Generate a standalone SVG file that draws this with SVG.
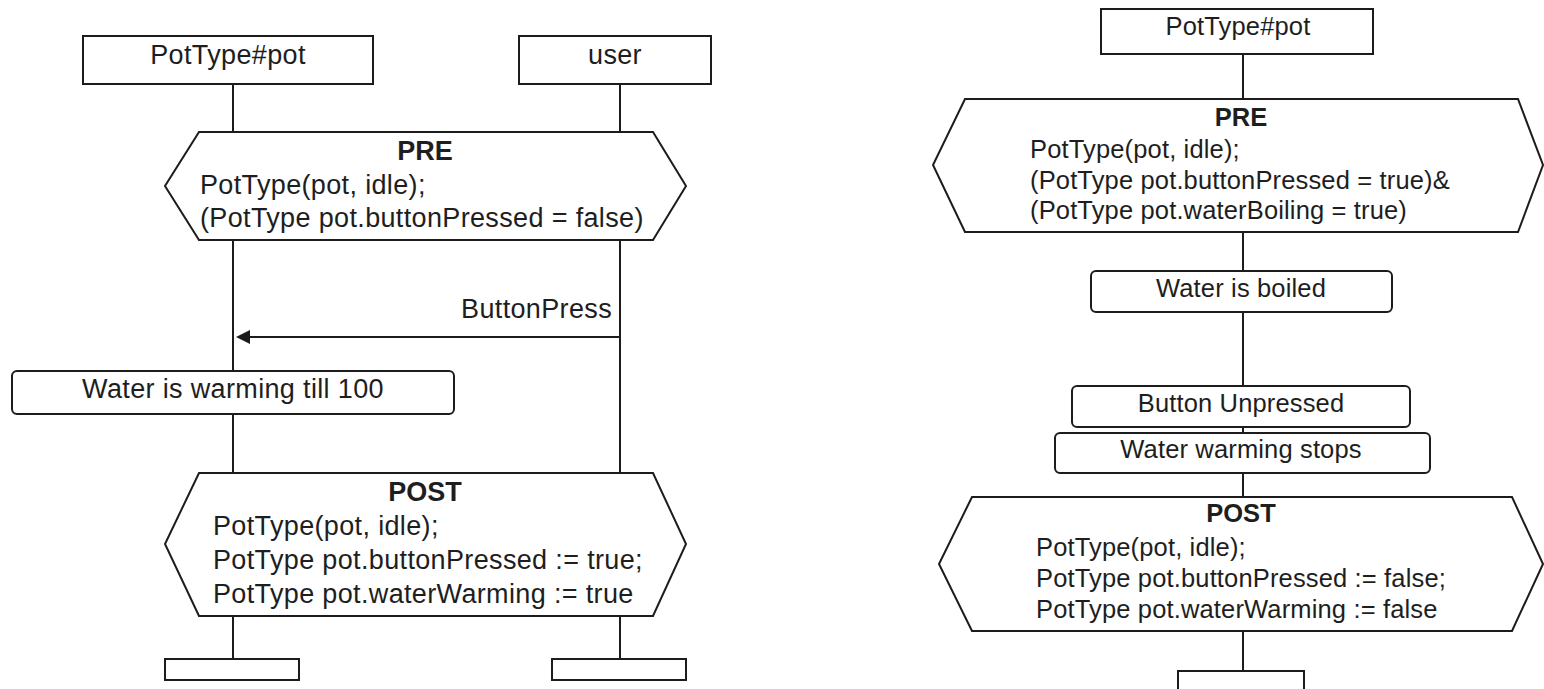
<svg xmlns="http://www.w3.org/2000/svg" width="1544" height="689" viewBox="0 0 1544 689">
  <style>
    .box { fill: #ffffff; stroke: #1c1c1c; stroke-width: 2; }
    .line { stroke: #1c1c1c; stroke-width: 2; fill: none; }
    .t { font-family: "Liberation Sans", Arial, sans-serif; fill: #1e1e1e; }
    .l { font-size: 27px; letter-spacing: 0.35px; }
    .r { font-size: 25.5px; letter-spacing: 0.15px; }
    .b { font-weight: bold; letter-spacing: 0; }
    .mid { text-anchor: middle; }
  </style>
  <rect width="1544" height="689" fill="#ffffff"/>

  <!-- lifelines and messages -->
  <g id="connectors">
    <line class="line" x1="233" y1="84" x2="233" y2="132"/>
    <line class="line" x1="233" y1="240" x2="233" y2="371"/>
    <line class="line" x1="233" y1="414" x2="233" y2="473"/>
    <line class="line" x1="233" y1="616" x2="233" y2="659"/>
    <line class="line" x1="620" y1="84" x2="620" y2="132"/>
    <line class="line" x1="620" y1="240" x2="620" y2="473"/>
    <line class="line" x1="620" y1="616" x2="620" y2="659"/>
    <line class="line" x1="620" y1="337" x2="250" y2="337"/>
    <path d="M236,337 L250,330 L250,344 Z" fill="#1c1c1c"/>
    <text class="t l" x="612" y="318" text-anchor="end">ButtonPress</text>

    <line class="line" x1="1243" y1="54" x2="1243" y2="99"/>
    <line class="line" x1="1243" y1="232" x2="1243" y2="271"/>
    <line class="line" x1="1243" y1="312" x2="1243" y2="386"/>
    <line class="line" x1="1243" y1="427" x2="1243" y2="433"/>
    <line class="line" x1="1243" y1="473" x2="1243" y2="497"/>
    <line class="line" x1="1243" y1="631" x2="1243" y2="671"/>
  </g>

  <!-- left chart -->
  <g id="pot-left">
    <rect class="box" x="83" y="36" width="290" height="48"/>
    <text class="t l mid" x="228" y="64">PotType#pot</text>
  </g>
  <g id="user">
    <rect class="box" x="519" y="36" width="192" height="48"/>
    <text class="t l mid" x="615" y="64">user</text>
  </g>
  <g id="pre-left">
    <polygon class="box" points="199,132 653,132 686,186 653,240 199,240 165,186"/>
    <text class="t l b mid" x="425" y="160">PRE</text>
    <text class="t l" x="200" y="194">PotType(pot, idle);</text>
    <text class="t l" x="200" y="227">(PotType pot.buttonPressed = false)</text>
  </g>
  <g id="warming">
    <rect class="box" x="12" y="371" width="442" height="43" rx="5"/>
    <text class="t l mid" x="233" y="398">Water is warming till 100</text>
  </g>
  <g id="post-left">
    <polygon class="box" points="199,473 653,473 686,544 653,616 199,616 165,544"/>
    <text class="t l b mid" x="425" y="501">POST</text>
    <text class="t l" x="213" y="535">PotType(pot, idle);</text>
    <text class="t l" x="213" y="569">PotType pot.buttonPressed := true;</text>
    <text class="t l" x="213" y="603">PotType pot.waterWarming := true</text>
  </g>
  <g id="end-pot-left">
    <rect class="box" x="165" y="659" width="134" height="21"/>
  </g>
  <g id="end-user">
    <rect class="box" x="552" y="659" width="134" height="21"/>
  </g>

  <!-- right chart -->
  <g id="pot-right">
    <rect class="box" x="1101" y="9" width="272" height="45"/>
    <text class="t r mid" x="1238" y="35">PotType#pot</text>
  </g>
  <g id="pre-right">
    <polygon class="box" points="965,99 1518,99 1543,165 1518,232 965,232 933,165"/>
    <text class="t r b mid" x="1241" y="126">PRE</text>
    <text class="t r" x="1030" y="158">PotType(pot, idle);</text>
    <text class="t r" x="1030" y="189">(PotType pot.buttonPressed = true)&amp;</text>
    <text class="t r" x="1030" y="219">(PotType pot.waterBoiling = true)</text>
  </g>
  <g id="boiled">
    <rect class="box" x="1091" y="271" width="301" height="41" rx="5"/>
    <text class="t r mid" x="1241" y="297">Water is boiled</text>
  </g>
  <g id="unpressed">
    <rect class="box" x="1072" y="386" width="338" height="41" rx="5"/>
    <text class="t r mid" x="1241" y="412">Button Unpressed</text>
  </g>
  <g id="stops">
    <rect class="box" x="1055" y="433" width="375" height="40" rx="5"/>
    <text class="t r mid" x="1241" y="458">Water warming stops</text>
  </g>
  <g id="post-right">
    <polygon class="box" points="972,497 1512,497 1543,564 1512,631 972,631 939,564"/>
    <text class="t r b mid" x="1241" y="522">POST</text>
    <text class="t r" x="1036" y="556">PotType(pot, idle);</text>
    <text class="t r" x="1036" y="587">PotType pot.buttonPressed := false;</text>
    <text class="t r" x="1036" y="618">PotType pot.waterWarming := false</text>
  </g>
  <g id="end-pot-right">
    <rect class="box" x="1178" y="671" width="126" height="30"/>
  </g>
</svg>
